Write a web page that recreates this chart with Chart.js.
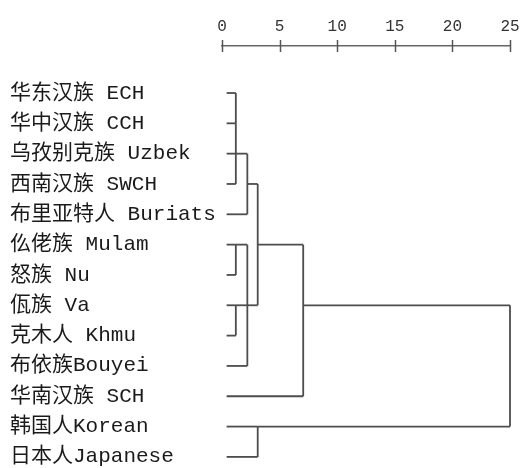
<!DOCTYPE html>
<html>
<head>
<meta charset="utf-8">
<script src="https://cdn.jsdelivr.net/npm/chart.js@4/dist/chart.umd.min.js"></script>
<style>
  html, body { margin: 0; padding: 0; background: #fff; }
  #wrap { width: 525px; height: 468px; }
</style>
</head>
<body>
<div id="wrap"><canvas id="tree"></canvas></div>
<script>
// leaves, top to bottom
const labels = [
  "华东汉族 ECH", "华中汉族 CCH", "乌孜别克族 Uzbek", "西南汉族 SWCH",
  "布里亚特人 Buriats", "仫佬族 Mulam", "怒族 Nu", "佤族 Va",
  "克木人 Khmu", "布依族Bouyei", "华南汉族 SCH", "韩国人Korean", "日本人Japanese"
];
const tickValues = [0, 5, 10, 15, 20, 25];
const leafStart = 0.4;

// joins: node ids 13.. in order, children are leaf or node ids
const joinChildren = [
  [0, 1, 2, 3],   // 13
  [13, 4],        // 14
  [5, 6],         // 15
  [7, 8],         // 16
  [15, 16, 9],    // 17
  [14, 17],       // 18
  [18, 10],       // 19
  [11, 12],       // 20
  [19, 20]        // 21
];
const joinDistance = [1.2, 2.2, 1.2, 1.2, 2.2, 3.1, 7.05, 3.1, 25];
const joinRow = [2, 3, 5, 7, 7, 5, 7, 11, null];

// Build line segments from the joins
function buildSegments() {
  const nodeX = labels.map(() => leafStart);
  const nodeRow = labels.map((l, i) => i);
  const segs = [];
  joinChildren.forEach(function (kids, j) {
    const d = joinDistance[j];
    const rows = kids.map(k => nodeRow[k]);
    kids.forEach(function (k) {
      segs.push([{ x: nodeX[k], y: nodeRow[k] }, { x: d, y: nodeRow[k] }]);
    });
    segs.push([{ x: d, y: Math.min(...rows) }, { x: d, y: Math.max(...rows) }]);
    nodeX.push(d);
    nodeRow.push(joinRow[j]);
  });
  return segs;
}

const datasets = buildSegments().map(function (s) {
  return {
    data: s,
    showLine: true,
    borderColor: "#4d4d4d",
    borderWidth: 1.8,
    pointRadius: 0,
    clip: false
  };
});

// tick marks crossing the top axis line
const crossTicks = {
  id: "crossTicks",
  afterDraw(chart) {
    const xs = chart.scales.x;
    const top = chart.chartArea.top;
    const ctx = chart.ctx;
    ctx.save();
    ctx.strokeStyle = "#555";
    ctx.lineWidth = 1.5;
    tickValues.forEach(function (v) {
      const px = Math.round(xs.getPixelForValue(v)) + 0.5;
      ctx.beginPath();
      ctx.moveTo(px, top - 6);
      ctx.lineTo(px, top + 6);
      ctx.stroke();
    });
    ctx.restore();
  }
};

const fontFamily = "'Liberation Mono', 'Noto Sans CJK SC', monospace";

new Chart(document.getElementById("tree"), {
  type: "scatter",
  data: { datasets: datasets },
  plugins: [crossTicks],
  options: {
    responsive: true,
    maintainAspectRatio: false,
    animation: false,
    layout: { padding: { left: 10, right: 15, top: 0, bottom: 2 } },
    plugins: { legend: { display: false }, tooltip: { enabled: false } },
    scales: {
      x: {
        type: "linear",
        position: "top",
        min: 0,
        max: 25,
        afterBuildTicks: function (axis) {
          axis.ticks = tickValues.map(v => ({ value: v }));
        },
        afterFit: function (axis) {
          axis.height = 46;
          axis.paddingLeft = 0;
          axis.paddingRight = 0;
        },
        ticks: {
          color: "#333",
          padding: 10,
          font: { family: fontFamily, size: 16 }
        },
        grid: { drawOnChartArea: false, drawTicks: false },
        border: { display: true, color: "#666", width: 1.5, dash: [4, 1] }
      },
      y: {
        type: "linear",
        reverse: true,
        min: -1.55,
        max: 12.3,
        afterBuildTicks: function (axis) {
          axis.ticks = labels.map((l, i) => ({ value: i }));
        },
        afterFit: function (axis) {
          axis.width = 212;
          axis.paddingTop = 0;
          axis.paddingBottom = 0;
        },
        ticks: {
          crossAlign: "far",
          color: "#1a1a1a",
          font: { family: fontFamily, size: 21 },
          callback: function (value) { return labels[value]; }
        },
        grid: { display: false },
        border: { display: false }
      }
    }
  }
});
</script>
</body>
</html>
